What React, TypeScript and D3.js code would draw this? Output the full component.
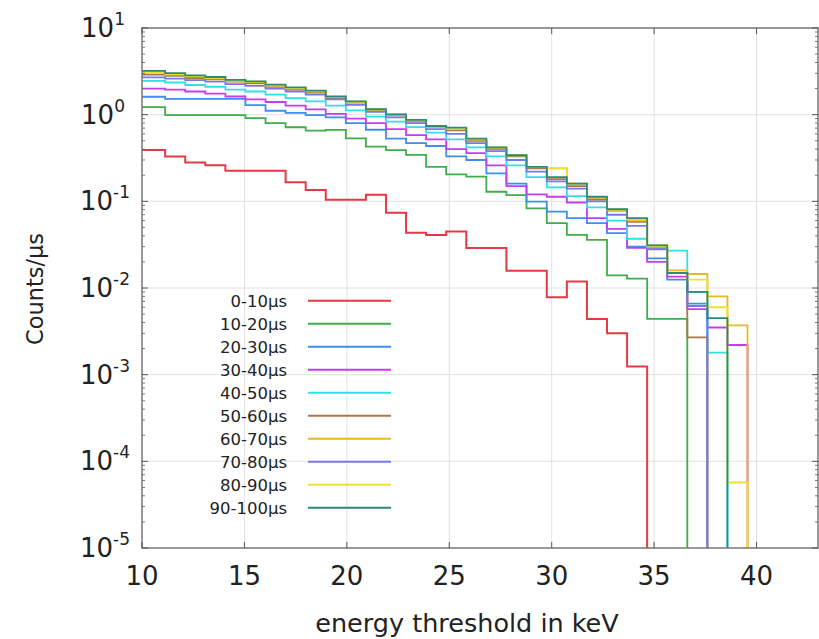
import React from "react";
import * as d3 from "d3";

const xEdges = [10, 11.13, 12.11, 13.09, 14.07, 15.05, 16.03, 17.01, 17.99, 18.97, 19.95, 20.93, 21.91, 22.89, 23.87, 24.85, 25.83, 26.81, 27.79, 28.77, 29.76, 30.74, 31.72, 32.7, 33.68, 34.66, 35.64, 36.62, 37.6, 38.58, 39.56];

const seriesLabels = ["0-10μs", "10-20μs", "20-30μs", "30-40μs", "40-50μs", "50-60μs", "60-70μs", "70-80μs", "80-90μs", "90-100μs"];
const seriesColors = ["#e33a45", "#3fae49", "#3e8ef0", "#c83cf0", "#30e0e8", "#a87848", "#e8b820", "#7878e8", "#f0e030", "#2e8a78"];

const s00_10 = [0.39, 0.33, 0.28, 0.26, 0.226, 0.226, 0.226, 0.166, 0.135, 0.104, 0.104, 0.119, 0.074, 0.0435, 0.041, 0.045, 0.029, 0.029, 0.0158, 0.0158, 0.0078, 0.0119, 0.0044, 0.003, 0.00124, 0, 0, 0, 0, 0];
const s10_20 = [1.22, 0.99, 0.99, 0.99, 0.99, 0.91, 0.8, 0.716, 0.654, 0.666, 0.534, 0.428, 0.39, 0.343, 0.25, 0.205, 0.193, 0.129, 0.118, 0.083, 0.056, 0.041, 0.036, 0.014, 0.0128, 0.0044, 0.0044, 0, 0, 0];
const s20_30 = [1.61, 1.52, 1.52, 1.52, 1.52, 1.29, 1.11, 1.05, 0.99, 0.93, 0.8, 0.67, 0.53, 0.47, 0.435, 0.33, 0.3, 0.21, 0.16, 0.099, 0.076, 0.064, 0.056, 0.043, 0.03, 0.022, 0.0125, 0.0066, 0, 0];
const s30_40 = [2.0, 1.95, 1.85, 1.75, 1.62, 1.5, 1.4, 1.27, 1.15, 1.02, 0.9, 0.8, 0.68, 0.58, 0.52, 0.4, 0.36, 0.26, 0.15, 0.12, 0.113, 0.097, 0.064, 0.048, 0.029, 0.02, 0.0135, 0.0057, 0.0035, 0.0022];
const s40_50 = [2.45, 2.35, 2.2, 2.1, 1.95, 1.85, 1.7, 1.55, 1.42, 1.27, 1.12, 0.95, 0.83, 0.72, 0.62, 0.52, 0.42, 0.33, 0.26, 0.19, 0.145, 0.115, 0.085, 0.06, 0.037, 0.03, 0.027, 0.009, 0.0018, 0];
const s50_60 = [2.9, 2.8, 2.65, 2.55, 2.4, 2.3, 2.1, 1.95, 1.8, 1.55, 1.38, 1.12, 0.98, 0.84, 0.72, 0.66, 0.5, 0.4, 0.33, 0.24, 0.18, 0.15, 0.105, 0.078, 0.058, 0.029, 0.0149, 0.0027, 0, 0];
const s60_70 = [3.05, 2.9, 2.75, 2.62, 2.45, 2.38, 2.15, 2.0, 1.85, 1.58, 1.4, 1.14, 1.0, 0.86, 0.73, 0.68, 0.52, 0.41, 0.34, 0.25, 0.24, 0.16, 0.11, 0.08, 0.06, 0.031, 0.016, 0.0145, 0.008, 0.0037];
const s70_80 = [2.7, 2.6, 2.5, 2.4, 2.25, 2.15, 2.0, 1.85, 1.7, 1.5, 1.3, 1.08, 0.93, 0.8, 0.68, 0.6, 0.47, 0.38, 0.3, 0.22, 0.17, 0.14, 0.1, 0.07, 0.052, 0.028, 0.0149, 0.0062, 0, 0];
const s80_90 = [3.1, 2.95, 2.8, 2.66, 2.48, 2.4, 2.18, 2.03, 1.87, 1.6, 1.41, 1.15, 1.0, 0.86, 0.73, 0.69, 0.52, 0.42, 0.34, 0.25, 0.24, 0.16, 0.112, 0.08, 0.062, 0.03, 0.0149, 0.0125, 0.006, 0.000057];
const s90_100 = [3.2, 3.02, 2.84, 2.72, 2.52, 2.42, 2.22, 2.06, 1.89, 1.62, 1.42, 1.16, 1.01, 0.87, 0.74, 0.71, 0.53, 0.42, 0.34, 0.25, 0.19, 0.16, 0.113, 0.081, 0.064, 0.031, 0.0149, 0.009, 0.0045, 0];

const seriesValues = [s00_10, s10_20, s20_30, s30_40, s40_50, s50_60, s60_70, s70_80, s80_90, s90_100];

const xTicks = [10, 15, 20, 25, 30, 35, 40];
const yExponents = [1, 0, -1, -2, -3, -4, -5];

const W = 819, H = 639;
const L = 142, R = 818, T = 28, B = 548;
const FONT = "'DejaVu Sans', sans-serif";

export default function App() {
  const x = d3.scaleLinear().domain([10, 43]).range([L, R]);
  const y = d3.scaleLog().domain([1e-5, 10]).range([B, T]);

  const line = d3
    .line<[number, number]>()
    .x((d) => x(d[0]))
    .y((d) => y(d[1] > 0 ? d[1] : 1e-7))
    .curve(d3.curveStepAfter);

  const paths = seriesValues.map((vals) => {
    const n = vals.length;
    const pts: [number, number][] = vals.map((v, i) => [xEdges[i], v]);
    pts.push([xEdges[n], vals[n - 1]]);
    pts.push([xEdges[n], 0]);
    return line(pts) as string;
  });

  const minorY: number[] = [];
  for (let e = -5; e < 1; e++) {
    for (let m = 2; m <= 9; m++) minorY.push(m * Math.pow(10, e));
  }

  return (
    <svg width={W} height={H} style={{ position: "absolute", left: 0, top: 0, background: "#fff" }} fontFamily={FONT}>
      <defs>
        <clipPath id="plotclip">
          <rect x={L} y={T} width={R - L} height={B - T} />
        </clipPath>
      </defs>
      <rect x={0} y={0} width={W} height={H} fill="#fff" />
      {/* grid */}
      {xTicks.filter((t) => t > 10).map((t) => (
        <line key={"gx" + t} x1={x(t)} x2={x(t)} y1={T} y2={B} stroke="#e2e2e2" strokeWidth={1} />
      ))}
      {yExponents.filter((e) => e < 1 && e > -5).map((e) => (
        <line key={"gy" + e} x1={L} x2={R} y1={y(Math.pow(10, e))} y2={y(Math.pow(10, e))} stroke="#e2e2e2" strokeWidth={1} />
      ))}
      {/* series */}
      <g clipPath="url(#plotclip)">
        {paths.map((p, i) => (
          <path key={"s" + i} d={p} fill="none" stroke={seriesColors[i]} strokeWidth={i === 0 ? 2 : 1.8} />
        ))}
      </g>
      {/* frame */}
      <rect x={L} y={T} width={R - L} height={B - T} fill="none" stroke="#777" strokeWidth={1.5} />
      {/* ticks */}
      {xTicks.map((t) => (
        <g key={"xt" + t}>
          <line x1={x(t)} x2={x(t)} y1={B} y2={B - 6} stroke="#555" />
          <line x1={x(t)} x2={x(t)} y1={T} y2={T + 6} stroke="#555" />
        </g>
      ))}
      {yExponents.map((e) => (
        <g key={"yt" + e}>
          <line x1={L} x2={L + 6} y1={y(Math.pow(10, e))} y2={y(Math.pow(10, e))} stroke="#555" />
          <line x1={R} x2={R - 6} y1={y(Math.pow(10, e))} y2={y(Math.pow(10, e))} stroke="#555" />
        </g>
      ))}
      {minorY.map((v, i) => (
        <g key={"ym" + i}>
          <line x1={L} x2={L + 3} y1={y(v)} y2={y(v)} stroke="#777" />
          <line x1={R} x2={R - 3} y1={y(v)} y2={y(v)} stroke="#777" />
        </g>
      ))}
      {/* x tick labels */}
      {xTicks.map((t) => (
        <text key={"xl" + t} x={x(t)} y={585} textAnchor="middle" fontSize={26} fill="#222">
          {t}
        </text>
      ))}
      {/* y tick labels */}
      {yExponents.map((e) => (
        <text key={"yl" + e} x={e >= 0 ? 125 : 130} y={y(Math.pow(10, e)) + 9} textAnchor="end" fontSize={26} fill="#222">
          10
          <tspan dy={-12} fontSize={17}>{e}</tspan>
        </text>
      ))}
      {/* axis titles */}
      <text x={467} y={632} textAnchor="middle" fontSize={25.5} fill="#222">energy threshold in keV</text>
      <text transform={`translate(43,289) rotate(-90)`} textAnchor="middle" fontSize={22.5} fill="#222">Counts/μs</text>
      {/* legend */}
      {seriesLabels.map((lab, i) => {
        const ly = 300.7 + i * 23;
        return (
          <g key={"lg" + i}>
            <text x={287} y={ly + 6} textAnchor="end" fontSize={16.5} fill="#222">{lab}</text>
            <line x1={308} x2={391} y1={ly} y2={ly} stroke={seriesColors[i]} strokeWidth={2} />
          </g>
        );
      })}
    </svg>
  );
}
